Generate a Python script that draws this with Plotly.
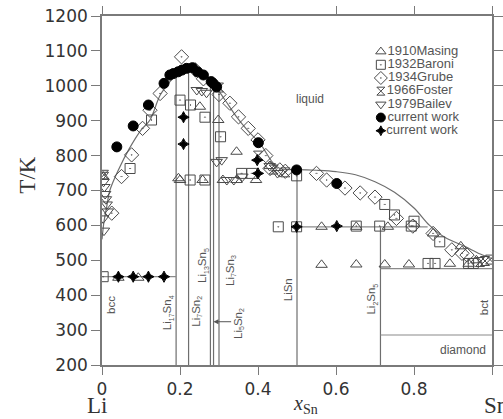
import plotly.graph_objects as go

# ---------------- data ----------------
# liquidus curve of the Li-Sn system
liq_x = [0.0, 0.005, 0.012, 0.02, 0.042, 0.07, 0.10, 0.123, 0.15, 0.18, 0.20, 0.225,
         0.25, 0.285, 0.315, 0.345, 0.375, 0.405, 0.439, 0.456, 0.48, 0.50, 0.55,
         0.60, 0.65, 0.70, 0.75, 0.80, 0.84, 0.88, 0.93, 0.97, 1.0]
liq_T = [560, 610, 653, 700, 759, 820, 873, 902, 975, 1020, 1045, 1062,
         1045, 1007, 960, 911, 870, 835, 778, 763, 760, 760, 758,
         754, 745, 725, 695, 650, 600, 565, 540, 518, 505]

# intermetallic compounds: composition and upper end of their line
comp_x = [0.190, 0.222, 0.278, 0.286, 0.300, 0.500, 0.714]
comp_top = [1030, 1058, 1005, 998, 985, 760, 598]
T_floor = 200

# invariant / transition temperatures: start, end, temperature
inv_x0 = [0.0, 0.5, 0.714, 0.714]
inv_x1 = [0.19, 0.835, 1.0, 1.0]
inv_T = [453, 596, 476, 286]

# literature data
masing_x = [0.003, 0.042, 0.093, 0.196, 0.200, 0.251, 0.298, 0.258, 0.310, 0.345, 0.345,
            0.395, 0.430, 0.563, 0.563, 0.652, 0.652, 0.725, 0.733, 0.787, 0.849, 0.892,
            0.920, 0.940, 0.960]
masing_T = [740, 450, 450, 735, 730, 940, 902, 730, 730, 730, 811,
            730, 770, 596, 487, 596, 488, 488, 596, 488, 577, 490,
            540, 490, 500]

baroni_x = [0.003, 0.072, 0.127, 0.200, 0.227, 0.264, 0.304, 0.226, 0.264, 0.358, 0.384,
            0.452, 0.499, 0.499, 0.652, 0.712, 0.750, 0.793, 0.836, 0.854, 0.866, 0.940,
            0.952, 0.725, 0.800]
baroni_T = [453, 763, 902, 959, 945, 910, 854, 730, 730, 749, 749,
            596, 596, 742, 598, 598, 630, 598, 491, 491, 553, 491,
            491, 660, 612]

grube_x = [0.025, 0.050, 0.076, 0.104, 0.123, 0.149, 0.204, 0.240, 0.260, 0.300, 0.328,
           0.350, 0.375, 0.400, 0.420, 0.431, 0.456, 0.470, 0.550, 0.576, 0.623, 0.662,
           0.700, 0.755, 0.797, 0.849, 0.897, 0.923, 0.936]
grube_T = [635, 740, 802, 878, 930, 978, 1083, 1045, 1020, 975, 950,
           911, 878, 845, 800, 763, 759, 755, 749, 730, 707, 693,
           681, 620, 598, 577, 530, 520, 515]

foster_x = [0.005, 0.300, 0.400, 0.440, 0.470, 0.969, 0.982, 0.995]
foster_T = [745, 995, 800, 760, 752, 495, 498, 502]

bailev_x = [0.002, 0.004, 0.006, 0.008, 0.010, 0.012, 0.015, 0.003, 0.005, 0.243, 0.256,
            0.268, 0.294, 0.307, 0.320, 0.338, 0.360, 0.430, 0.450]
bailev_T = [745, 725, 710, 690, 675, 660, 640, 620, 585, 988, 985,
            980, 782, 787, 730, 730, 740, 770, 750]

# this work
cw_dot_x = [0.038, 0.080, 0.119, 0.159, 0.174, 0.183, 0.195, 0.205, 0.217, 0.232, 0.245,
            0.260, 0.280, 0.285, 0.294, 0.401, 0.499, 0.602]
cw_dot_T = [825, 885, 945, 1007, 1031, 1035, 1040, 1045, 1050, 1052, 1040,
            1031, 1012, 1007, 997, 837, 759, 720]

cw_star_x = [0.042, 0.080, 0.119, 0.159, 0.209, 0.209, 0.398, 0.400, 0.499, 0.602]
cw_star_T = [453, 453, 453, 453, 910, 833, 787, 749, 596, 598]

# phase-region labels (element symbol, stoichiometric index pairs)
lab_formula = [("bcc",), ("Li", "17", "Sn", "4"), ("Li", "7", "Sn", "2"),
               ("Li", "13", "Sn", "5"), ("Li", "7", "Sn", "3"),
               ("Li", "5", "Sn", "2"), ("LiSn",), ("Li", "2", "Sn", "5"), ("bct",)]
lab_x = [0.023, 0.167, 0.243, 0.259, 0.328, 0.350, 0.476, 0.692, 0.980]
lab_T = [372, 349, 355, 484, 472, 319, 416, 390, 366]

legend_names = ["1910Masing", "1932Baroni", "1934Grube", "1966Foster", "1979Bailev",
                "current work", "current work"]


def formula_html(parts):
    """Element symbols at normal size, indices as small subscripts."""
    out = ""
    for i, p in enumerate(parts):
        if i % 2 == 1:
            out += "<sub><span style='font-size:7px'>%s</span></sub>" % p
        else:
            out += p
    return out


# ---------------- figure ----------------
LINE = "#6e6e6e"
MK = "#4a4a4a"
fig = go.Figure()

# liquidus
fig.add_trace(go.Scatter(x=liq_x, y=liq_T, mode="lines", line=dict(color=LINE, width=1.2),
                         line_shape="spline", hoverinfo="skip"))

# compound lines
vx, vy = [], []
for cx, top in zip(comp_x, comp_top):
    vx += [cx, cx, None]
    vy += [T_floor, top, None]
fig.add_trace(go.Scatter(x=vx, y=vy, mode="lines", line=dict(color=LINE, width=1.2)))

# horizontal invariants
hx, hy = [], []
for a, b, t in zip(inv_x0, inv_x1, inv_T):
    hx += [a, b, None]
    hy += [t, t, None]
fig.add_trace(go.Scatter(x=hx, y=hy, mode="lines", line=dict(color="#8a8a8a", width=1.2)))

series = [
    (masing_x, masing_T, "triangle-up-open", 10, MK),
    (baroni_x, baroni_T, "square-open-dot", 10, MK),
    (grube_x, grube_T, "diamond-open-dot", 11, MK),
    (foster_x, foster_T, "hourglass-open", 9, MK),
    (bailev_x, bailev_T, "triangle-down-open", 10, MK),
    (cw_dot_x, cw_dot_T, "circle", 10, "#000000"),
    (cw_star_x, cw_star_T, "star-diamond", 8, "#000000"),
]
for xs, ts, sym, size, col in series:
    fig.add_trace(go.Scatter(
        x=xs, y=ts, mode="markers",
        marker=dict(symbol=sym, size=size, color=col, line=dict(color=col, width=1)),
    ))

# legend drawn on an overlay axis in fractional coordinates
leg_x0 = 0.715
leg_y0 = 0.898
leg_dy = 0.0378
for i, ((_, _, sym, size, col), name) in enumerate(zip(series, legend_names)):
    fig.add_trace(go.Scatter(
        x=[leg_x0], y=[leg_y0 - i * leg_dy], xaxis="x2", yaxis="y2",
        mode="markers+text", text=[name], textposition="middle right",
        textfont=dict(family="Liberation Sans, Arial", size=13, color="#555555"),
        marker=dict(symbol=sym, size=size - 1, color=col, line=dict(color=col, width=1)),
    ))

annotations = []
for parts, x, y in zip(lab_formula, lab_x, lab_T):
    annotations.append(dict(x=x, y=y, xref="x", yref="y", text=formula_html(parts),
                            showarrow=False, textangle=-90, xanchor="center", yanchor="middle",
                            font=dict(family="Liberation Sans, Arial", size=11.5, color="#555555")))
annotations += [
    dict(x=0.533, y=962, xref="x", yref="y", text="liquid", showarrow=False,
         font=dict(family="Liberation Sans, Arial", size=12, color="#555555")),
    dict(x=0.99, y=243, xref="x", yref="y", text="diamond", showarrow=False, xanchor="right",
         font=dict(family="Liberation Sans, Arial", size=12, color="#555555")),
    # leader arrow for Li5Sn2
    dict(x=0.2857, y=324, xref="x", yref="y", ax=0.335, ay=324, axref="x", ayref="y",
         text="", showarrow=True, arrowhead=2, arrowsize=1, arrowwidth=1, arrowcolor="#555555"),
    # axis titles
    dict(x=-0.191, y=0.544, xref="paper", yref="paper", text="T/K", showarrow=False,
         textangle=-90, xanchor="center", yanchor="middle",
         font=dict(family="Liberation Serif, Times New Roman", size=23, color="#333333")),
    dict(x=-0.014, y=-0.116, xref="paper", yref="paper", text="Li", showarrow=False,
         xanchor="center", yanchor="middle",
         font=dict(family="Liberation Serif, Times New Roman", size=23, color="#333333")),
    dict(x=0.975, y=-0.116, xref="paper", yref="paper", text="Sn", showarrow=False, xanchor="left",
         yanchor="middle",
         font=dict(family="Liberation Serif, Times New Roman", size=23, color="#333333")),
    dict(x=0.523, y=-0.112, xref="paper", yref="paper",
         text="<i>x</i><sub>Sn</sub>", showarrow=False, xanchor="center", yanchor="middle",
         font=dict(family="Liberation Serif, Times New Roman", size=20, color="#333333")),
]

axis_common = dict(showline=True, linecolor="#7a7a7a", linewidth=1.6, mirror="ticks",
                   ticks="outside", tickwidth=1.4, tickcolor="#7a7a7a",
                   showgrid=False, zeroline=False, automargin=False,
                   tickfont=dict(family="DejaVu Sans", size=17, color="#333333"))

fig.update_layout(
    width=503, height=419,
    margin=dict(l=102, r=11, t=16, b=54, autoexpand=False),
    paper_bgcolor="white", plot_bgcolor="white",
    showlegend=False,
    xaxis=dict(range=[0, 1.0], tickvals=[0, 0.2, 0.4, 0.6, 0.8, 1.0], ticklen=8,
               ticktext=["0", "0.2", "0.4", "0.6", "0.8", "1.0"], **axis_common),
    yaxis=dict(range=[200, 1200], tickvals=list(range(200, 1201, 100)), ticklen=9,
               **axis_common),
    xaxis2=dict(overlaying="x", range=[0, 1], visible=False),
    yaxis2=dict(overlaying="y", range=[0, 1], visible=False),
    annotations=annotations,
)

fig.write_html("out.html")
